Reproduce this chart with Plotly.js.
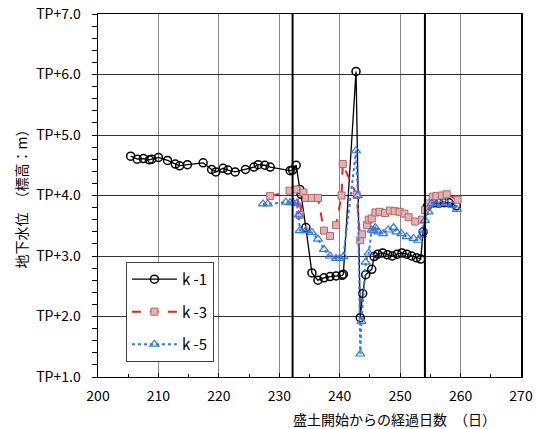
<!DOCTYPE html>
<html><head><meta charset="utf-8">
<script src="https://cdn.plot.ly/plotly-3.0.1.min.js"></script>
<style>html,body{margin:0;padding:0;background:#fff}</style>
</head><body><div id="chart" style="width:537px;height:429px"></div>
<script>
// k-1
const k1Days = [205.4,206.5,207.5,208.5,208.9,210.0,211.5,212.8,213.5,214.8,217.4,218.8,219.5,220.7,221.5,222.7,224.4,225.8,226.5,227.6,228.5,231.8,232.2,232.8,233.4,233.6,234.4,235.4,236.4,237.4,238.4,239.4,240.4,240.6,242.7,243.4,243.8,244.3,245.3,245.7,246.3,247.1,247.9,248.7,249.5,250.3,251.1,251.9,252.7,253.4,253.8,254.5,255.5,256.4,257.3,258.1,259.3];
const k1Vals = [4.65,4.60,4.61,4.59,4.60,4.63,4.58,4.52,4.49,4.51,4.54,4.43,4.39,4.45,4.42,4.39,4.43,4.47,4.51,4.50,4.47,4.41,4.42,4.50,4.10,4.02,3.47,2.72,2.60,2.64,2.66,2.67,2.68,2.70,6.05,1.98,2.38,2.69,2.78,2.99,3.03,3.05,3.02,3.00,3.03,3.05,3.03,3.00,2.97,2.95,3.40,3.82,3.88,3.87,3.88,3.88,3.83];
// k-3
const k3Days = [228.5,231.7,232.8,233.4,234.0,234.4,235.4,236.4,237.4,238.4,239.4,240.3,240.5,242.8,243.4,243.7,244.5,244.8,245.3,245.9,246.6,247.5,248.3,249.1,249.9,250.7,251.4,252.5,253.6,254.1,254.7,255.4,256.0,256.9,257.7,259.5];
const k3Vals = [3.99,4.08,4.10,3.68,4.05,3.96,3.96,3.96,3.42,3.33,3.51,4.00,4.52,4.01,3.26,3.36,3.51,3.60,3.62,3.72,3.73,3.71,3.75,3.74,3.73,3.70,3.64,3.57,3.60,3.76,3.87,3.98,3.99,4.00,4.02,3.93];
// k-5
const k5Days = [227.3,228.1,231.1,231.8,232.3,232.9,233.2,233.4,234.4,235.4,236.4,237.4,238.4,239.4,240.0,240.6,242.7,243.0,243.4,243.6,244.3,244.8,245.3,245.6,245.9,246.4,247.2,248.0,248.9,249.4,250.2,251.1,252.2,253.0,253.6,253.8,254.1,254.7,255.2,256.0,256.9,257.7,258.6,259.4];
const k5Vals = [3.86,3.86,3.89,3.88,3.88,3.87,3.68,3.42,3.42,3.39,3.28,3.11,3.00,2.96,2.96,2.99,4.74,4.00,1.38,1.92,2.90,3.05,3.43,3.42,3.47,3.40,3.37,3.43,3.47,3.40,3.37,3.32,3.29,3.26,3.35,3.43,3.59,3.73,3.87,3.84,3.87,3.87,3.84,3.77];
// event lines
const eventDays = [232.2, 254.1];
const yTickVals = [1,2,3,4,5,6,7];
const yTickText = ['TP+1.0','TP+2.0','TP+3.0','TP+4.0','TP+5.0','TP+6.0','TP+7.0'];
const xTickVals = [200,210,220,230,240,250,260,270];

const FONT = '"Noto Sans CJK JP", "DejaVu Sans", sans-serif';

const traces = [
  {x:k1Days, y:k1Vals, name:'k -1', mode:'lines+markers', legendgroup:'a',
   line:{color:'#000000', width:1.3},
   marker:{symbol:'circle-open', size:8, color:'#000000', line:{width:1.5}}},
  {x:k3Days, y:k3Vals, name:'k -3', mode:'lines+markers', legendgroup:'b',
   line:{color:'#ff1a1a', width:2, dash:'dash'},
   marker:{symbol:'square', size:7, color:'#ddb4b4', line:{color:'#c06060', width:1}}},
  {x:k5Days, y:k5Vals, name:'k -5', mode:'lines+markers', legendgroup:'c',
   line:{color:'#2a78ff', width:2, dash:'dot'},
   marker:{symbol:'triangle-up-open', size:8, color:'#2a78ff', line:{width:1.2}}}
];

const shapes = eventDays.map(d => ({type:'line', xref:'x', yref:'paper', x0:d, x1:d, y0:0, y1:1,
  line:{color:'#000000', width:2}}));

const layout = {
  width:537, height:429,
  margin:{l:98, r:16, t:14, b:52},
  paper_bgcolor:'#ffffff', plot_bgcolor:'#ffffff',
  font:{family:FONT, size:14, color:'#000'},
  showlegend:true,
  legend:{x:0.066, y:0.317, xanchor:'left', yanchor:'top', bgcolor:'#ffffff',
    bordercolor:'#404040', borderwidth:1, tracegroupgap:10, itemwidth:45,
    font:{family:FONT, size:15, color:'#000'}},
  xaxis:{range:[200,270], tickvals:xTickVals, ticks:'inside', ticklen:4, tickcolor:'#000',
    showgrid:true, gridcolor:'#888888', gridwidth:1, zeroline:false,
    showline:true, linecolor:'#000', linewidth:1, mirror:true, ticklabelstandoff:6,
    minor:{dtick:5, ticks:'inside', ticklen:3, tickcolor:'#000', showgrid:false},
    tickfont:{family:FONT, size:14}},
  yaxis:{range:[1,7], tickvals:yTickVals, ticktext:yTickText, ticks:'outside', ticklen:5, tickcolor:'#000',
    showgrid:true, gridcolor:'#333333', gridwidth:1, zeroline:false,
    showline:true, linecolor:'#000', linewidth:1.5, mirror:true, ticklabelstandoff:8,
    minor:{dtick:0.2, ticks:'outside', ticklen:5, tickcolor:'#000', showgrid:false},
    tickfont:{family:FONT, size:14}},
  shapes:shapes,
  annotations:[
    {text:'地下水位　（標高：m）', xref:'paper', yref:'paper', x:0, y:0.5, xanchor:'center', yanchor:'middle',
     xshift:-78, textangle:-90, showarrow:false, font:{family:FONT, size:14}},
    {text:'盛土開始からの経過日数　（日）', xref:'paper', yref:'paper', x:0.7, y:0, xanchor:'center', yanchor:'middle',
     yshift:-42, showarrow:false, font:{family:FONT, size:14}}
  ]
};

Plotly.newPlot('chart', traces, layout, {displayModeBar:false, staticPlot:true});
</script></body></html>
